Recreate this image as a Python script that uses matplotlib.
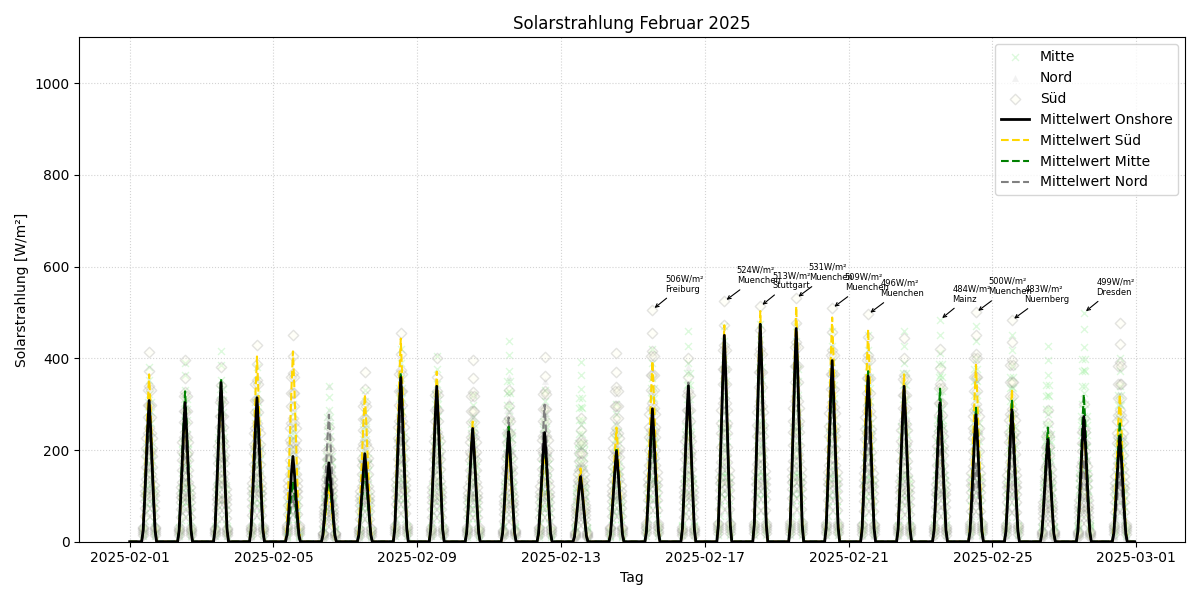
import numpy as np
import pandas as pd
import matplotlib
matplotlib.use("Agg")
from matplotlib import pyplot as plt
import matplotlib.dates as mdates

# Tagesspitzen der Mittelwerte (W/m²), 1.-28. Februar
peak_onshore = [308, 303, 347, 314, 186, 172, 192, 358, 339, 247, 240, 238, 142, 197,
                290, 340, 450, 474, 465, 395, 361, 339, 303, 277, 288, 223, 273, 229]
peak_sued = [365, 290, 330, 404, 415, 120, 321, 443, 371, 262, 200, 200, 160, 249,
             394, 320, 472, 503, 513, 489, 463, 365, 290, 386, 332, 230, 250, 321]
peak_mitte = [300, 328, 356, 300, 131, 142, 160, 369, 330, 245, 251, 220, 140, 205,
              260, 330, 440, 475, 450, 370, 372, 330, 334, 292, 310, 249, 321, 262]
peak_nord = [260, 230, 300, 240, 100, 277, 150, 280, 300, 230, 271, 299, 157, 180,
             220, 347, 420, 440, 430, 330, 250, 300, 230, 170, 230, 190, 180, 150]

# Tageshoechstwerte der Stationen je Region
max_sued = [413, 397, 380, 430, 450, 250, 371, 456, 400, 397, 330, 402, 270, 412,
            506, 400, 524, 513, 531, 509, 496, 444, 420, 500, 483, 288, 300, 478]
max_mitte = [380, 390, 415, 380, 300, 339, 330, 420, 404, 320, 437, 330, 391, 300,
             420, 459, 470, 475, 470, 460, 450, 459, 484, 470, 450, 427, 499, 400]
max_nord = [300, 260, 330, 280, 200, 339, 220, 330, 320, 270, 360, 350, 200, 250,
            330, 380, 420, 440, 420, 380, 300, 330, 280, 220, 260, 200, 250, 180]

# Anteil am Tageshoechstwert je Station
share_sued = [0.45, 0.6, 0.72, 0.82, 0.9, 1.0]
share_mitte = [0.4, 0.55, 0.65, 0.75, 0.85, 0.93, 1.0]
share_nord = [0.5, 0.7, 0.85, 1.0]

# relativer Tagesgang, Stunde 0-23
hourly_shape = [0, 0, 0, 0, 0, 0, 0, 0, 0, 0.08, 0.3, 0.55, 0.8, 1.0,
                0.8, 0.55, 0.3, 0.08, 0, 0, 0, 0, 0, 0]

# Beschriftete Maxima
ann_days = [15, 17, 18, 19, 20, 21, 23, 24, 25, 27]
ann_values = [506, 524, 513, 531, 509, 496, 484, 500, 483, 499]
ann_cities = ["Freiburg", "Muenchen", "Stuttgart", "Muenchen", "Muenchen", "Muenchen",
              "Mainz", "Muenchen", "Nuernberg", "Dresden"]

hours = pd.date_range("2025-02-01", periods=28 * 24, freq="h")
shape = np.tile(hourly_shape, 28)
day = shape > 0


def hourly(peaks):
    return np.repeat(peaks, 24) * shape


fig, ax = plt.subplots(figsize=(12, 6), dpi=100)

# Stationswerte (nur Tagstunden)
for i, s in enumerate(share_mitte):
    ax.scatter(hours[day], (hourly(max_mitte) * s)[day], marker="x", color="lightgreen",
               alpha=0.3, s=25, linewidths=1, label="Mitte" if i == 0 else None, zorder=1)
for i, s in enumerate(share_nord):
    ax.scatter(hours[day], (hourly(max_nord) * s)[day], marker="^", color="lightgray",
               alpha=0.3, s=25, linewidths=0, label="Nord" if i == 0 else None, zorder=1)
for i, s in enumerate(share_sued):
    ax.scatter(hours[day], (hourly(max_sued) * s)[day], marker="D", facecolor="lightyellow",
               edgecolor="gray", alpha=0.22, s=28, linewidths=1,
               label="Süd" if i == 0 else None, zorder=1)

# Mittelwerte
ax.plot(hours, hourly(peak_onshore), color="black", lw=2, label="Mittelwert Onshore", zorder=5)
ax.plot(hours, hourly(peak_sued), color="gold", lw=1.5, ls="--", label="Mittelwert Süd", zorder=3)
ax.plot(hours, hourly(peak_mitte), color="green", lw=1.5, ls="--", label="Mittelwert Mitte", zorder=3)
ax.plot(hours, hourly(peak_nord), color="gray", lw=1.5, ls="--", label="Mittelwert Nord", zorder=2)

for d, v, c in zip(ann_days, ann_values, ann_cities):
    t = pd.Timestamp(2025, 2, d, 13)
    ax.annotate(f"{v}W/m²\n{c}", xy=(t, v), xytext=(9, 13), textcoords="offset points",
                fontsize=6, arrowprops=dict(arrowstyle="->", color="black", lw=0.8))

ax.set_ylim(0, 1100)
ax.xaxis.set_major_locator(mdates.DayLocator(bymonthday=[1, 5, 9, 13, 17, 21, 25]))
ax.xaxis.set_major_formatter(mdates.DateFormatter("%Y-%m-%d"))
ax.grid(True, ls=":", color="lightgray")
ax.set_title("Solarstrahlung Februar 2025")
ax.set_xlabel("Tag")
ax.set_ylabel("Solarstrahlung [W/m²]")
ax.legend(loc="upper right")

plt.tight_layout()
plt.savefig("out.png")
